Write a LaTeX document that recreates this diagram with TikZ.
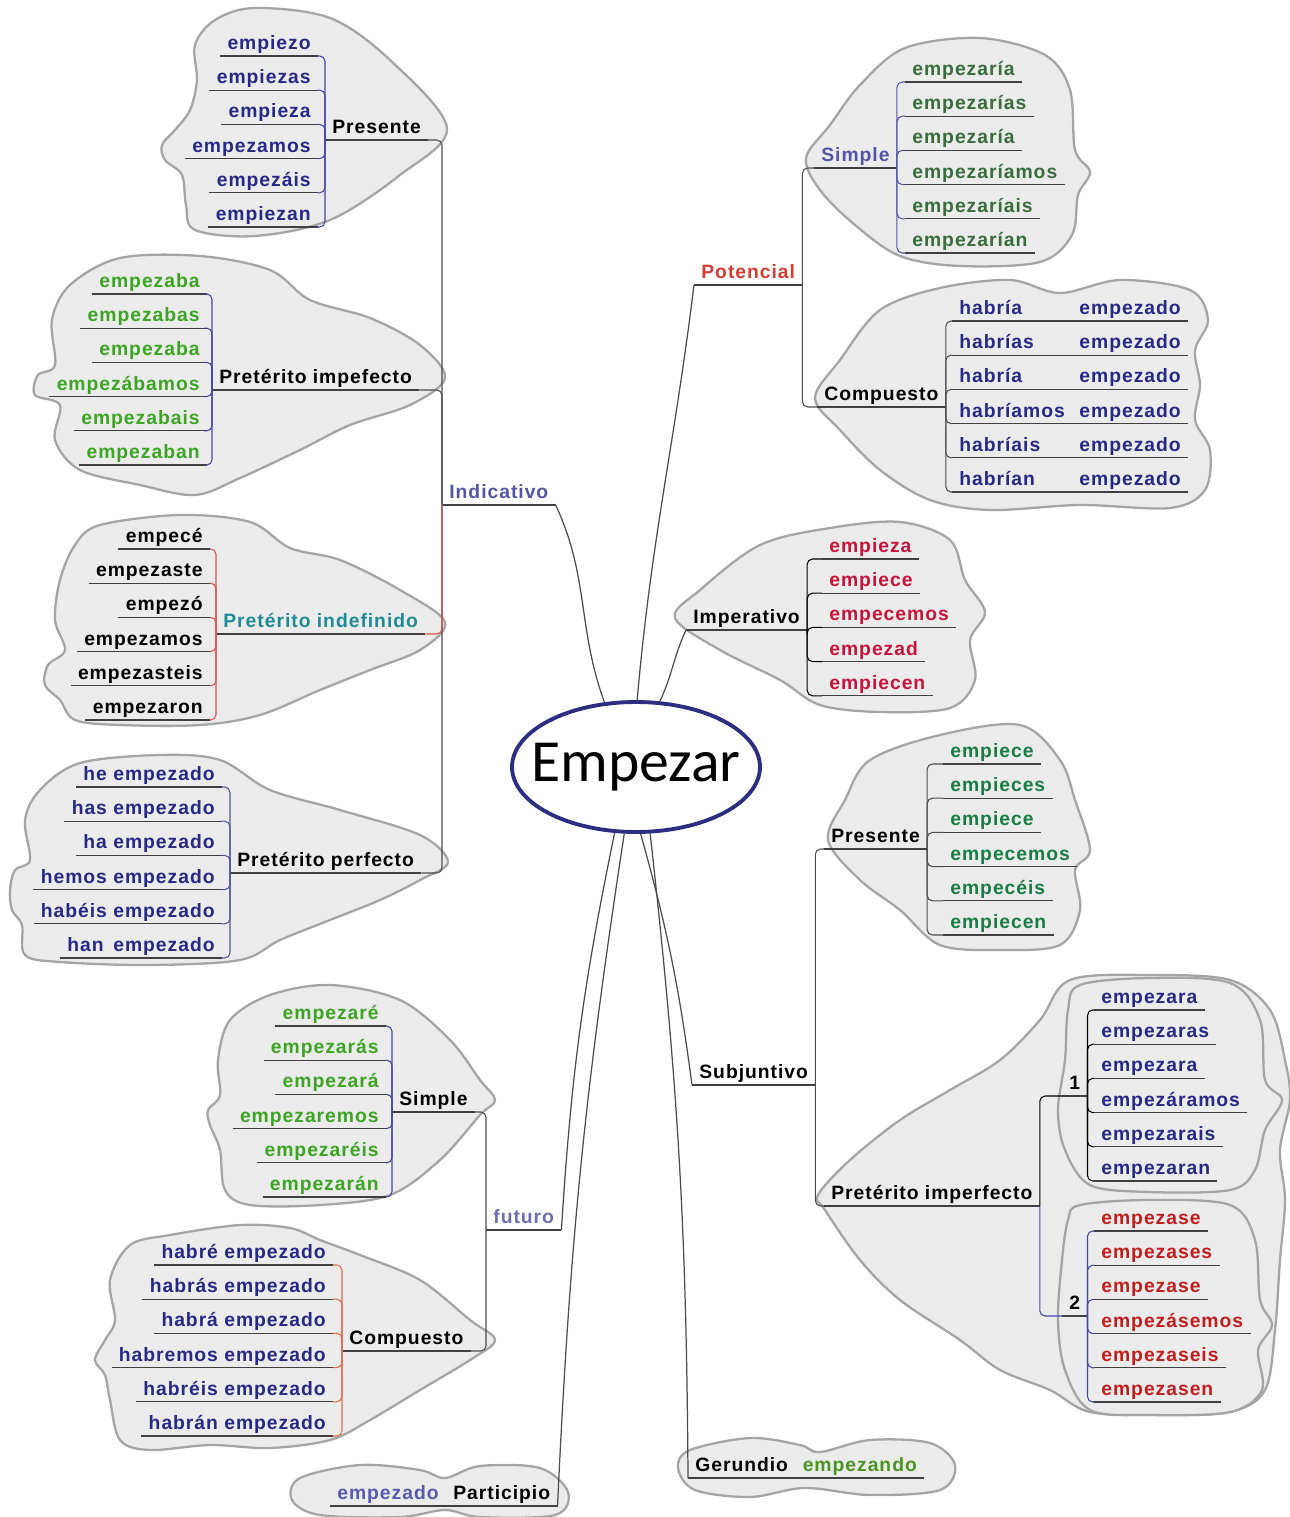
\documentclass[tikz,border=0pt]{standalone}
\usepackage{fontspec}
\usepackage{tikz}
\usetikzlibrary{positioning,shapes.geometric}

\newfontfamily\mapfont[LetterSpace=5]{Liberation Sans}
\newfontfamily\hubfont{Carlito}

\definecolor{verbblue}{RGB}{40,40,135}
\definecolor{slate}{RGB}{85,85,165}
\definecolor{futblue}{RGB}{110,110,175}
\definecolor{verbgreen}{RGB}{60,165,35}
\definecolor{dkgreen}{RGB}{55,110,60}
\definecolor{tealgreen}{RGB}{25,125,70}
\definecolor{verbred}{RGB}{200,20,60}
\definecolor{darkred}{RGB}{195,30,30}
\definecolor{potred}{RGB}{215,60,50}
\definecolor{tealtext}{RGB}{30,140,150}
\definecolor{gerundgreen}{RGB}{75,150,30}
\definecolor{partblue}{RGB}{90,90,175}
\definecolor{cloudfill}{RGB}{236,236,236}
\definecolor{cloudline}{RGB}{165,165,165}
\definecolor{hubblue}{RGB}{45,45,130}
\definecolor{bluelink}{RGB}{70,70,170}
\definecolor{redlink}{RGB}{225,80,80}
\definecolor{orangelink}{RGB}{225,110,70}

\tikzset{
  uline/.style={draw=black!75, line width=0.6pt},
  word/.style={font={\mapfont\bfseries\fontsize{11}{13}\selectfont}, inner xsep=4pt, inner ysep=1pt,
    text height=8.5pt, text depth=2.5pt,
    append after command={(\tikzlastnode.south west) edge[uline] (\tikzlastnode.south east)}},
  lw/.style={word, anchor=south east},
  rw/.style={word, anchor=south west},
  link/.style={line width=0.6pt},
  elbow/.style={to path={|- (\tikztotarget) \tikztonodes}, rounded corners=3pt},
  mainlink/.style={line width=0.7pt, draw=black!70},
  blob/.style={fill=cloudfill, draw=cloudline, line width=1.3pt},
}

\begin{document}
\begin{tikzpicture}[x=0.02cm, y=-0.02cm]
\useasboundingbox[fill=white] (0,0) rectangle (1290,1517);

% clouds
\draw[blob] plot[smooth cycle, tension=0.55] coordinates {(255,8) (330,18) (390,60) (447,128) (400,175) (330,220) (255,236) (195,230) (186,205) (182,175) (165,160) (162,145) (175,130) (190,110) (197,80) (195,45) (215,20)};
\draw[blob] plot[smooth cycle, tension=0.55] coordinates {(120,258) (200,256) (270,270) (310,300) (370,318) (420,345) (445,378) (410,405) (350,425) (300,450) (240,478) (195,495) (140,485) (80,470) (55,440) (60,405) (35,395) (38,375) (55,365) (52,320) (70,285)};
\draw[blob] plot[smooth cycle, tension=0.55] coordinates {(100,525) (180,515) (250,522) (290,548) (340,560) (400,590) (445,622) (420,650) (370,670) (320,690) (260,715) (200,725) (120,725) (75,720) (60,700) (45,685) (48,665) (65,650) (55,620) (60,580) (75,545)};
\draw[blob] plot[smooth cycle, tension=0.55] coordinates {(80,763) (160,755) (220,760) (270,790) (340,810) (420,835) (448,862) (420,880) (380,900) (330,920) (280,940) (240,960) (150,965) (60,962) (25,955) (22,925) (12,910) (10,890) (15,870) (30,860) (25,820) (40,790)};
\draw[blob] plot[smooth cycle, tension=0.55] coordinates {(905,48) (980,38) (1045,55) (1070,90) (1075,150) (1090,172) (1078,195) (1072,235) (1040,262) (960,266) (900,256) (855,225) (820,190) (806,158) (830,125) (860,85)};
\draw[blob] plot[smooth cycle, tension=0.55] coordinates {(880,310) (940,288) (1010,280) (1060,293) (1120,280) (1190,290) (1208,320) (1195,350) (1200,385) (1195,420) (1210,450) (1205,490) (1170,508) (1080,505) (990,510) (930,500) (880,470) (840,430) (815,398) (840,360)};
\draw[blob] plot[smooth cycle, tension=0.55] coordinates {(760,545) (830,528) (900,522) (950,540) (965,580) (985,612) (970,640) (975,680) (950,708) (880,712) (820,705) (780,680) (720,650) (675,618) (700,590)};
\draw[blob] plot[smooth cycle, tension=0.55] coordinates {(870,760) (940,735) (1020,725) (1060,760) (1075,800) (1090,850) (1075,870) (1080,910) (1060,945) (1000,950) (940,945) (900,910) (860,880) (828,840) (845,800)};
\draw[blob] plot[smooth cycle, tension=0.55] coordinates {(1070,980) (1150,975) (1230,980) (1270,1010) (1285,1060) (1290,1100) (1280,1150) (1285,1200) (1280,1260) (1275,1330) (1265,1390) (1230,1412) (1160,1415) (1090,1412) (1050,1390) (1000,1370) (960,1340) (900,1300) (860,1260) (825,1210) (818,1195) (850,1160) (900,1120) (950,1090) (1000,1060) (1040,1020)};
\draw[blob] plot[smooth cycle, tension=0.55] coordinates {(1080,985) (1150,978) (1230,983) (1260,1020) (1265,1080) (1282,1100) (1265,1130) (1255,1170) (1230,1190) (1150,1192) (1090,1185) (1065,1150) (1058,1110) (1065,1060) (1068,1010)};
\draw[blob] plot[smooth cycle, tension=0.55] coordinates {(1080,1205) (1150,1200) (1230,1205) (1255,1240) (1260,1300) (1272,1325) (1258,1350) (1262,1390) (1230,1412) (1150,1415) (1090,1410) (1065,1370) (1058,1320) (1062,1260) (1068,1220)};
\draw[blob] plot[smooth cycle, tension=0.55] coordinates {(270,995) (330,985) (400,1000) (450,1040) (480,1080) (495,1100) (480,1115) (440,1160) (390,1195) (320,1205) (250,1205) (225,1190) (220,1150) (210,1125) (208,1110) (220,1095) (218,1060) (230,1020)};
\draw[blob] plot[smooth cycle, tension=0.55] coordinates {(170,1235) (240,1225) (290,1228) (320,1240) (360,1255) (420,1280) (470,1320) (495,1340) (470,1360) (420,1390) (370,1420) (330,1440) (270,1448) (210,1445) (150,1450) (120,1440) (110,1400) (105,1375) (95,1360) (105,1340) (115,1320) (110,1280) (130,1245)};
\draw[blob] plot[smooth cycle, tension=0.55] coordinates {(300,1478) (360,1465) (420,1470) (445,1478) (480,1466) (540,1468) (568,1492) (555,1515) (480,1517) (445,1510) (400,1517) (320,1515) (292,1500)};
\draw[blob] plot[smooth cycle, tension=0.55] coordinates {(690,1450) (750,1438) (800,1445) (820,1452) (870,1440) (930,1443) (955,1465) (940,1490) (870,1495) (805,1488) (750,1497) (695,1490) (678,1468)};

\node[ellipse, draw=hubblue, line width=2.2pt, fill=white, minimum width=4.96cm, minimum height=2.6cm,
  inner sep=0pt, font=\hubfont\fontsize{34}{40}\selectfont] (ctr) at (636,767) {\makebox[0pt]{Empezar}};

% indicativo
\node[rw, slate] (ind) at (442,505) {Indicativo};
\node[rw] (ipre) at (325,140) {Presente};
\node[rw] (iimp) at (212,390) {Pretérito impefecto};
\node[rw, tealtext] (iind) at (216,634) {Pretérito indefinido};
\node[rw] (iper) at (230,873) {Pretérito perfecto};
\foreach \t [count=\i] in {empiezo,empiezas,empieza,empezamos,empezáis,empiezan}
  \node[lw, verbblue] (ipre\i) at (318,21.8+34.2*\i) {\t};
\foreach \t [count=\i] in {empezaba,empezabas,empezaba,empezábamos,empezabais,empezaban}
  \node[lw, verbgreen] (iimp\i) at (207,259.8+34.2*\i) {\t};
\foreach \t [count=\i] in {empecé,empezaste,empezó,empezamos,empezasteis,empezaron}
  \node[lw] (iind\i) at (210,514.8+34.2*\i) {\t};
\foreach \t [count=\i] in {he empezado,has empezado,ha empezado,hemos empezado,habéis empezado,han\enspace empezado}
  \node[lw, verbblue] (iper\i) at (222,752.8+34.2*\i) {\t};

% potencial
\node[rw, potred] (pot) at (694,285) {Potencial};
\node[rw, slate] (psim) at (814,168) {Simple};
\node[rw] (pcom) at (817,407) {Compuesto};
\foreach \t [count=\i] in {empezaría,empezarías,empezaría,empezaríamos,empezaríais,empezarían}
  \node[rw, dkgreen] (psim\i) at (905,47.8+34.2*\i) {\t};
\foreach \t [count=\i] in {habría,habrías,habría,habríamos,habríais,habrían}
  \node[rw, verbblue, text width=126pt] (pcom\i) at (952,286.8+34.2*\i) {\t\hfill empezado};

% imperativo
\node[rw] (imp) at (686,630) {Imperativo};
\foreach \t [count=\i] in {empieza,empiece,empecemos,empezad,empiecen}
  \node[rw, verbred] (imp\i) at (822,524.8+34.2*\i) {\t};

% subjuntivo
\node[rw] (sub) at (692,1085) {Subjuntivo};
\node[rw] (spre) at (824,849) {Presente};
\node[rw] (simp) at (824,1206) {Pretérito imperfecto};
\node[rw] (sone) at (1062,1096) {1};
\node[rw] (stwo) at (1062,1316) {2};
\foreach \t [count=\i] in {empiece,empieces,empiece,empecemos,empecéis,empiecen}
  \node[rw, tealgreen] (spre\i) at (943,729.8+34.2*\i) {\t};
\foreach \t [count=\i] in {empezara,empezaras,empezara,empezáramos,empezarais,empezaran}
  \node[rw, verbblue] (sone\i) at (1094,975.8+34.2*\i) {\t};
\foreach \t [count=\i] in {empezase,empezases,empezase,empezásemos,empezaseis,empezasen}
  \node[rw, darkred] (stwo\i) at (1094,1196.8+34.2*\i) {\t};

% gerundio
\node[rw] (ger) at (688,1478) {Gerundio};
\node[rw, gerundgreen, right=0pt of ger.south east, anchor=south west] (gerw) {empezando};

% futuro
\node[rw, futblue] (fut) at (486,1230) {futuro};
\node[rw] (fsim) at (392,1112) {Simple};
\node[rw] (fcom) at (342,1351) {Compuesto};
\foreach \t [count=\i] in {empezaré,empezarás,empezará,empezaremos,empezaréis,empezarán}
  \node[lw, verbgreen] (fsim\i) at (386,991.8+34.2*\i) {\t};
\foreach \t [count=\i] in {habré empezado,habrás empezado,habrá empezado,habremos empezado,habréis empezado,habrán empezado}
  \node[lw, verbblue] (fcom\i) at (333,1230.8+34.2*\i) {\t};

% participio
\node[rw] (par) at (446,1506) {Participio};
\node[lw, partblue] (parw) at (par.south west) {empezado};

% links
\path[mainlink] (ind.south east) edge[out=-65,in=110] (ctr.116);
\path[mainlink] (pot.south west) edge[out=-97,in=85] (ctr.89);
\path[mainlink] (imp.south west) edge[out=-115,in=65] (ctr.70);
\path[mainlink] (fut.south east) edge[bend left=4] (ctr.252);
\path[mainlink] (par.south east) edge[bend left=3] (ctr.260);
\path[mainlink] (sub.south west) edge[bend right=4] (ctr.274);
\path[mainlink] (ger.south west) edge[bend right=3] (ctr.282);

\path[link, black!70] (ind.south west) edge[elbow] (ipre.south east);
\path[link, black!70] (ind.south west) edge[elbow] (iimp.south east);
\path[link, black!70] (ind.south west) edge[elbow] (iper.south east);
\path[link, redlink] (ind.south west) edge[elbow] (iind.south east);
\path[link, black!70] (pot.south east) edge[elbow] (psim.south west);
\path[link, black!70] (pot.south east) edge[elbow] (pcom.south west);
\path[link, black!70] (sub.south east) edge[elbow] (spre.south west);
\path[link, black!70] (sub.south east) edge[elbow] (simp.south west);
\path[link, black] (simp.south east) edge[elbow] (sone.south west);
\path[link, bluelink] (simp.south east) edge[elbow] (stwo.south west);
\path[link, black!70] (fut.south west) edge[elbow] (fsim.south east);
\path[link, black!70] (fut.south west) edge[elbow] (fcom.south east);
\path[link, black!70] (par.south west) edge (parw.south east);

\foreach \i in {1,...,6} {
  \path[link, bluelink] (ipre.south west) edge[elbow] (ipre\i.south east);
  \path[link, bluelink] (iimp.south west) edge[elbow] (iimp\i.south east);
  \path[link, redlink] (iind.south west) edge[elbow] (iind\i.south east);
  \path[link, slate] (iper.south west) edge[elbow] (iper\i.south east);
  \path[link, slate] (psim.south east) edge[elbow] (psim\i.south west);
  \path[link, black!70] (pcom.south east) edge[elbow] (pcom\i.south west);
  \path[link, black!70] (spre.south east) edge[elbow] (spre\i.south west);
  \path[link, black] (sone.south east) edge[elbow] (sone\i.south west);
  \path[link, bluelink] (stwo.south east) edge[elbow] (stwo\i.south west);
  \path[link, bluelink] (fsim.south west) edge[elbow] (fsim\i.south east);
  \path[link, orangelink] (fcom.south west) edge[elbow] (fcom\i.south east);
}
\foreach \i in {1,...,5}
  \path[link, black] (imp.south east) edge[elbow] (imp\i.south west);

\end{tikzpicture}
\end{document}
